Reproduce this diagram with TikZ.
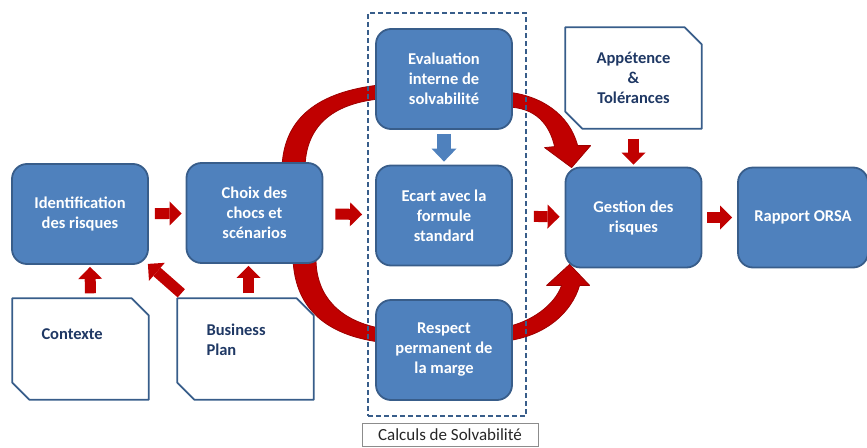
\documentclass[tikz,border=0pt]{standalone}
\usepackage{fontspec}
\setmainfont{Carlito}
\usetikzlibrary{arrows.meta,calc,backgrounds}
\definecolor{boxblue}{HTML}{4F81BD}
\definecolor{boxline}{HTML}{385D8A}
\definecolor{arrowred}{HTML}{C00000}
\definecolor{arcline}{HTML}{9E0000}
\definecolor{doctext}{HTML}{1F3864}

\begin{document}
\begin{tikzpicture}[x=1pt, y=-1pt, font=\fontsize{16.5}{20}\selectfont\bfseries]
      \tikzstyle{block} = [rectangle, rounded corners=15pt, draw=boxline, line width=1.8pt, fill=boxblue, text=white, align=center, minimum width=136pt, minimum height=100pt, inner sep=2pt]
      \tikzstyle{docbox} = [rectangle, minimum width=136pt, minimum height=101pt, text=doctext, text width=78pt, align=left]
      \tikzstyle{docline} = [draw=boxline, line width=1.8pt, line join=round]
      \tikzstyle{arrow} = [draw=arrowred, line width=11pt, -{Triangle[width=24pt, length=12pt, line width=0pt]}]
      \tikzstyle{bluearrow} = [draw=boxblue, line width=14pt, -{Triangle[width=25pt, length=13pt, line width=0pt]}]
      \tikzstyle{bigarc} = [fill=arrowred, draw=arcline, line width=0.8pt, line join=round]

      \useasboundingbox (0,0) rectangle (867,447);

      \node (ident) [block] at (80, 214) {Identification\\des risques};
      \node (choix) [block] at (254.5, 213) {Choix des\\chocs et\\scénarios};
      \node (eval) [block] at (444, 79) {Evaluation\\interne de\\solvabilité};
      \node (ecart) [block] at (444, 215.5) {Ecart avec la\\formule\\standard};
      \node (respect) [block] at (444, 350) {Respect\\permanent de\\la marge};
      \node (gestion) [block] at (633.5, 217.5) {Gestion des\\risques};
      \node (rapport) [block, minimum width=130pt] at (803, 217.5) {Rapport ORSA};

      \node (contexte) [docbox, text depth=29pt] at (80.5, 349) {Contexte};
      \node (bplan) [docbox, text depth=39pt] at (245.5, 349) {Business\\Plan};
      \node (appet) [docbox, text width=100pt, align=center] at (633.5, 78) {Appétence\\\&\\Tolérances};
      \foreach \n in {contexte, bplan, appet}
         \draw [docline] (\n.north west) -- ($(\n.north east)+(-17,0)$) -- ($(\n.north east)+(0,17)$)
            -- (\n.south east) -- ($(\n.south west)+(17,0)$) -- ($(\n.south west)+(0,-17)$) -- cycle;

      \node (calclabel) [draw=black!45, line width=0.8pt, minimum width=176pt, minimum height=23pt, inner ysep=1pt,
         font=\fontsize{17}{20}\selectfont\mdseries, text=black!85] at (450, 435) {Calculs de Solvabilité};

      \begin{scope}[on background layer]
      \draw [bigarc] ($(choix.north)+(27.5,5)$) .. controls +(2,-50) and +(-60,7) .. ($(eval.west)+(4,6)$)
         -- ($(eval.west)+(4,20)$) .. controls +(-48,5) and +(1,-40) .. ($(choix.north)+(50.5,5)$) -- cycle;
      \draw [bigarc] ($(eval.east)+(-7,13)$) .. controls +(35,3) and +(-8,-31) .. ($(gestion.north west)+(13,-21)$)
         -- ($(gestion.north west)+(26,-21)$) -- ($(gestion.north west)+(7,1)$) -- ($(gestion.north west)+(-20,-19)$)
         -- ($(gestion.north west)+(-10,-20)$) .. controls +(-5,-22) and +(30,0) .. ($(eval.east)+(-7,28)$) -- cycle;
      \draw [bigarc] ($(choix.south)+(38.5,-5)$) .. controls +(2,52) and +(-50,-7) .. ($(respect.west)+(4,-8)$)
         -- ($(respect.west)+(4,-22)$) .. controls +(-40,-8) and +(0,37) .. ($(choix.south)+(61.5,-5)$) -- cycle;
      \draw [bigarc] ($(respect.east)+(-7,-23)$) .. controls +(25,-5) and +(-7,20) .. ($(gestion.south west)+(-3,17)$)
         -- ($(gestion.south west)+(-18,17)$) -- ($(gestion.south west)+(5,-4)$) -- ($(gestion.south west)+(25,17)$)
         -- ($(gestion.south west)+(15,17)$) .. controls +(-8,27) and +(40,-5) .. ($(respect.east)+(-7,-9)$) -- cycle;
      \node (solv) [draw=boxline, line width=1.6pt, dash pattern=on 5pt off 3pt, minimum width=158pt, minimum height=403pt] at (447, 214.5) {};
      \end{scope}

      \draw [arrow, shorten <=6pt, shorten >=4pt] (ident) -- (choix);
      \draw [arrow, shorten <=12pt, shorten >=13pt] (choix) -- (ecart);
      \draw [arrow, shorten <=21pt, shorten >=5pt] (ecart) -- (gestion);
      \draw [arrow, shorten <=5pt, shorten >=5pt] (gestion) -- (rapport);
      \draw [arrow, shorten <=10pt, shorten >=2pt] (appet) -- (gestion);
      \draw [arrow, shorten <=5pt, shorten >=2pt] ([xshift=10pt]contexte.north) -- ([xshift=10pt]ident.south);
      \draw [arrow, shorten <=5pt, shorten >=2pt] ([xshift=3pt]bplan.north) -- ([xshift=-6pt]choix.south);
      \draw [arrow] ($(bplan.north west)+(4,-5)$) -- ($(ident.south east)+(-1,-1)$);
      \draw [bluearrow, shorten <=4pt, shorten >=3pt] (eval) -- (ecart);
\end{tikzpicture}
\end{document}
